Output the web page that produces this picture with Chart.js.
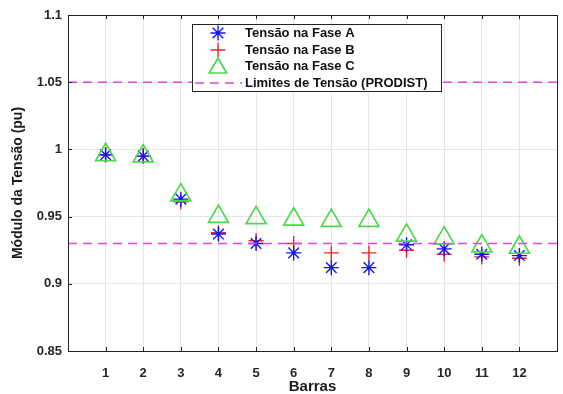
<!DOCTYPE html>
<html><head><meta charset="utf-8">
<script src="https://cdn.jsdelivr.net/npm/chart.js@4"></script>
<style>
html,body{margin:0;padding:0;background:#fff;overflow:hidden}
#wrap{width:563px;height:394px;overflow:hidden;position:relative}
#wrap canvas{position:absolute;left:0;top:0}
</style></head><body>
<div id="wrap"><canvas id="c" width="572" height="394"></canvas></div>
<script>
const barras=[1,2,3,4,5,6,7,8,9,10,11,12];
const faseA=[0.996,0.995,0.963,0.937,0.930,0.923,0.912,0.912,0.929,0.926,0.922,0.921];
const faseB=[0.996,0.995,0.961,0.938,0.932,0.930,0.923,0.923,0.925,0.922,0.920,0.919];
const faseC=[0.996,0.995,0.966,0.950,0.949,0.948,0.947,0.947,0.936,0.934,0.928,0.927];
const limites=[1.05,0.93];
const yTicks=[0.85,0.9,0.95,1,1.05,1.1];
const xTicks=[0,1,2,3,4,5,6,7,8,9,10,11,12,13];
const labels=['Tensão na Fase A','Tensão na Fase B','Tensão na Fase C','Limites de Tensão (PRODIST)'];

const FONT='"Liberation Sans", Arial, sans-serif';
const pts=arr=>barras.map((b,i)=>({x:b,y:arr[i]}));
const limLine=v=>[{x:xTicks[0],y:v},{x:xTicks[xTicks.length-1],y:v}];

const cA='#1414ee', cB='#ee2424', cC='#4cd84c', cL='#e045e0';
const mk={
  A:{pointStyle:'star',radius:7.5,color:cA,width:1.4},
  B:{pointStyle:'cross',radius:7.5,color:cB,width:1.4},
  C:{pointStyle:'triangle',radius:11.5,color:cC,width:1.7}
};
const ds=(lab,arr,m,order)=>({label:lab,data:pts(arr),showLine:false,pointStyle:m.pointStyle,
  pointRadius:m.radius,pointBorderColor:m.color,pointBackgroundColor:'rgba(0,0,0,0)',
  pointBorderWidth:m.width,order:order});

const frame={id:'frame',
  afterDatasetsDraw(chart){
    const {ctx,chartArea:a,scales}=chart;
    ctx.save();
    ctx.strokeStyle='#222';ctx.lineWidth=1;
    ctx.beginPath();
    xTicks.forEach(t=>{const x=Math.round(scales.x.getPixelForValue(t))+0.5;
      ctx.moveTo(x,a.bottom);ctx.lineTo(x,a.bottom-4);ctx.moveTo(x,a.top);ctx.lineTo(x,a.top+4);});
    yTicks.forEach(t=>{const y=Math.round(scales.y.getPixelForValue(t))+0.5;
      ctx.moveTo(a.left,y);ctx.lineTo(a.left+4,y);});
    ctx.stroke();
    ctx.strokeRect(Math.round(a.left)+0.5,Math.round(a.top)+0.5,Math.round(a.right-a.left),Math.round(a.bottom-a.top));
    // legend
    const L=192,T=24,R=441,B=91;
    ctx.fillStyle='#fff';ctx.fillRect(L,T,R-L,B-T);
    ctx.strokeStyle='#222';ctx.strokeRect(L+0.5,T+0.5,R-L,B-T);
    const rows=[33,50,66,83], mx=218, tx=245;
    const ms=[mk.A,mk.B,mk.C];
    ms.forEach((m,i)=>{
      ctx.strokeStyle=m.color;ctx.lineWidth=m.width;
      const y=rows[i], r=(m.pointStyle==='triangle')?10:m.radius;
      ctx.beginPath();
      if(m.pointStyle==='triangle'){
        const c=y+2;
        ctx.moveTo(mx,c-r);ctx.lineTo(mx+r*0.866,c+r*0.5);ctx.lineTo(mx-r*0.866,c+r*0.5);ctx.closePath();
      } else {
        ctx.moveTo(mx-r,y);ctx.lineTo(mx+r,y);ctx.moveTo(mx,y-r);ctx.lineTo(mx,y+r);
        if(m.pointStyle==='star'){const d=r*0.7071;
          ctx.moveTo(mx-d,y-d);ctx.lineTo(mx+d,y+d);ctx.moveTo(mx-d,y+d);ctx.lineTo(mx+d,y-d);}
      }
      ctx.stroke();
    });
    ctx.strokeStyle=cL;ctx.lineWidth=1.5;ctx.setLineDash([9,6]);
    ctx.beginPath();ctx.moveTo(195,rows[3]);ctx.lineTo(242,rows[3]);ctx.stroke();
    ctx.setLineDash([]);
    ctx.fillStyle='#111';ctx.font='bold 13px '+FONT;ctx.textBaseline='middle';ctx.textAlign='left';
    labels.forEach((t,i)=>ctx.fillText(t,tx,rows[i]+0.5));
    ctx.restore();
  }};

new Chart(document.getElementById('c'),{
  type:'scatter',
  data:{datasets:[
    ds(labels[0],faseA,mk.A,3),
    ds(labels[1],faseB,mk.B,4),
    ds(labels[2],faseC,mk.C,2),
    {label:labels[3],data:limLine(limites[0]),showLine:true,borderColor:cL,borderWidth:1.5,borderDash:[9,6],pointRadius:0,order:1},
    {label:labels[3]+' ',data:limLine(limites[1]),showLine:true,borderColor:cL,borderWidth:1.5,borderDash:[9,6],pointRadius:0,order:1}
  ]},
  options:{
    responsive:false,animation:false,
    layout:{padding:{top:15,right:5,left:0,bottom:0}},
    plugins:{legend:{display:false},tooltip:{enabled:false}},
    scales:{
      x:{type:'linear',min:xTicks[0],max:xTicks[xTicks.length-1],
        afterBuildTicks:s=>{s.ticks=xTicks.map(v=>({value:v}));},
        afterFit:s=>{s.height=43;},
        grid:{color:'#e6e6e6',drawTicks:false},border:{display:false},
        ticks:{padding:15,color:'#262626',font:{family:FONT,size:13,weight:'bold'},
          callback:v=>(v===xTicks[0]||v===xTicks[xTicks.length-1])?'':String(v),maxRotation:0,autoSkip:false},
        title:{display:true,text:'Barras',color:'#1a1a1a',font:{family:FONT,size:15,weight:'bold',lineHeight:1},padding:{top:0,bottom:0}}
      },
      y:{type:'linear',min:yTicks[0],max:yTicks[yTicks.length-1],
        afterBuildTicks:s=>{s.ticks=yTicks.map(v=>({value:v}));},
        afterFit:s=>{s.width=68;},
        grid:{color:'#e6e6e6',drawTicks:false},border:{display:false},
        ticks:{padding:6,color:'#262626',font:{family:FONT,size:13,weight:'bold'},
          callback:v=>String(+v.toFixed(2))},
        title:{display:true,text:'Módulo da Tensão (pu)',color:'#1a1a1a',font:{family:FONT,size:14,weight:'bold',lineHeight:1.2},padding:{top:10,bottom:0}}
      }
    }
  },
  plugins:[frame]
});
</script></body></html>
